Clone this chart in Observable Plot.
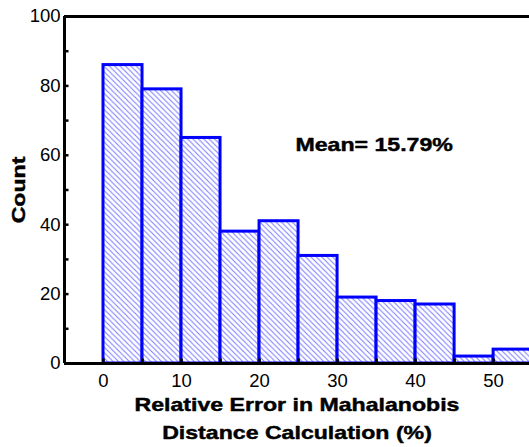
<!DOCTYPE html>
<html>
<head>
<meta charset="utf-8">
<script src="https://cdn.jsdelivr.net/npm/d3@7"></script>
<script src="https://cdn.jsdelivr.net/npm/@observablehq/plot@0.6"></script>
<style>
  html, body { margin: 0; padding: 0; background: #fff; overflow: hidden; }
  #chart svg { display: block; }
</style>
</head>
<body>
<div id="chart"></div>
<script>
// Histogram of relative errors (bin width 5%)
const binStarts = [0, 5, 10, 15, 20, 25, 30, 35, 40, 45, 50];
const counts = [86, 79, 65, 38, 41, 31, 19, 18, 17, 2, 4];
const binWidth = 5;

const xDomain = [-5, 54.6];
const yDomain = [0, 100];
const xTicks = [0, 10, 20, 30, 40, 50];
const xMinorTicks = [0, 5, 10, 15, 20, 25, 30, 35, 40, 45, 50];
const yTicks = [0, 20, 40, 60, 80, 100];
const yMinorTicks = [10, 20, 30, 40, 50, 60, 70, 80, 90];

const meanLabel = "Mean= 15.79%";
const meanAt = { x: 24.6, y: 65.2 };
const xLabel = "Relative Error in Mahalanobis\nDistance Calculation (%)";
const yLabel = "Count";

const bins = binStarts.map((s, i) => ({ start: s, end: s + binWidth, count: counts[i] }));

const font = "'Liberation Sans', Arial, Helvetica, sans-serif";
const titleSize = 18.8;
const tickLen = 4.5;
const boldText = { fontSize: titleSize, fontWeight: "bold", fill: "#000", stroke: "#000", strokeWidth: 0.45 };

const chart = Plot.plot({
  width: 529,
  height: 447,
  marginLeft: 64,
  marginRight: 0,
  marginTop: 16,
  marginBottom: 84,
  style: { fontFamily: font, background: "#fff", color: "#000", overflow: "hidden" },
  x: { domain: xDomain, axis: null },
  y: { domain: yDomain, axis: null },
  marks: [
    Plot.rectY(bins, {
      x1: "start", x2: "end", y: "count",
      fill: "url(#hatch)", stroke: "#0000ff", strokeWidth: 3, clip: true
    }),
    // frame lines: left, bottom, top
    Plot.ruleX([xDomain[0]], { stroke: "#000", strokeWidth: 3 }),
    Plot.ruleY([yDomain[0], yDomain[1]], { stroke: "#000", strokeWidth: 3 }),
    // inward tick marks
    Plot.ruleX(xMinorTicks, { y1: yDomain[0], y2: yDomain[0], insetTop: -tickLen, stroke: "#000", strokeWidth: 2.5 }),
    Plot.ruleY(yMinorTicks, { x1: xDomain[0], x2: xDomain[0], insetRight: -tickLen, stroke: "#000", strokeWidth: 2.5 }),
    // tick labels
    Plot.axisX({ ticks: xTicks, tickSize: 0, tickPadding: 10, fontSize: 18.5, anchor: "bottom", label: null }),
    Plot.axisY({ ticks: yTicks, tickSize: 0, tickPadding: 4, fontSize: 18.5, anchor: "left", label: null }),
    // axis titles
    Plot.text([xLabel], {
      frameAnchor: "bottom", textAnchor: "middle", lineAnchor: "top", dy: 27.8, lineHeight: 1.49,
      ...boldText
    }),
    Plot.text([yLabel], {
      frameAnchor: "left", textAnchor: "middle", rotate: -90, dx: -46,
      ...boldText
    }),
    // annotation
    Plot.text([meanLabel], {
      x: () => meanAt.x, y: () => meanAt.y, textAnchor: "start", lineAnchor: "top",
      ...boldText
    })
  ]
});

const svg = d3.select(chart);

// the bold titles are set in a wide face: stretch them along their baseline
svg.selectAll("g[font-weight='bold'] text").each(function () {
  const t = d3.select(this);
  const tr = t.attr("transform") || "";
  t.attr("transform", tr + " scale(1.23,1)");
});

// diagonal hatch used as the bar fill
const pat = svg.insert("defs", ":first-child")
  .append("pattern")
  .attr("id", "hatch")
  .attr("patternUnits", "userSpaceOnUse")
  .attr("width", 5.4)
  .attr("height", 5.4);
pat.append("rect").attr("width", 5.4).attr("height", 5.4).attr("fill", "#fff");
pat.append("path")
  .attr("d", "M-1.35,-1.35L6.75,6.75M-1.35,4.05L1.35,6.75M4.05,-1.35L6.75,1.35")
  .attr("stroke", "#7d7dff")
  .attr("stroke-width", 1.1);

document.getElementById("chart").appendChild(chart);
</script>
</body>
</html>
